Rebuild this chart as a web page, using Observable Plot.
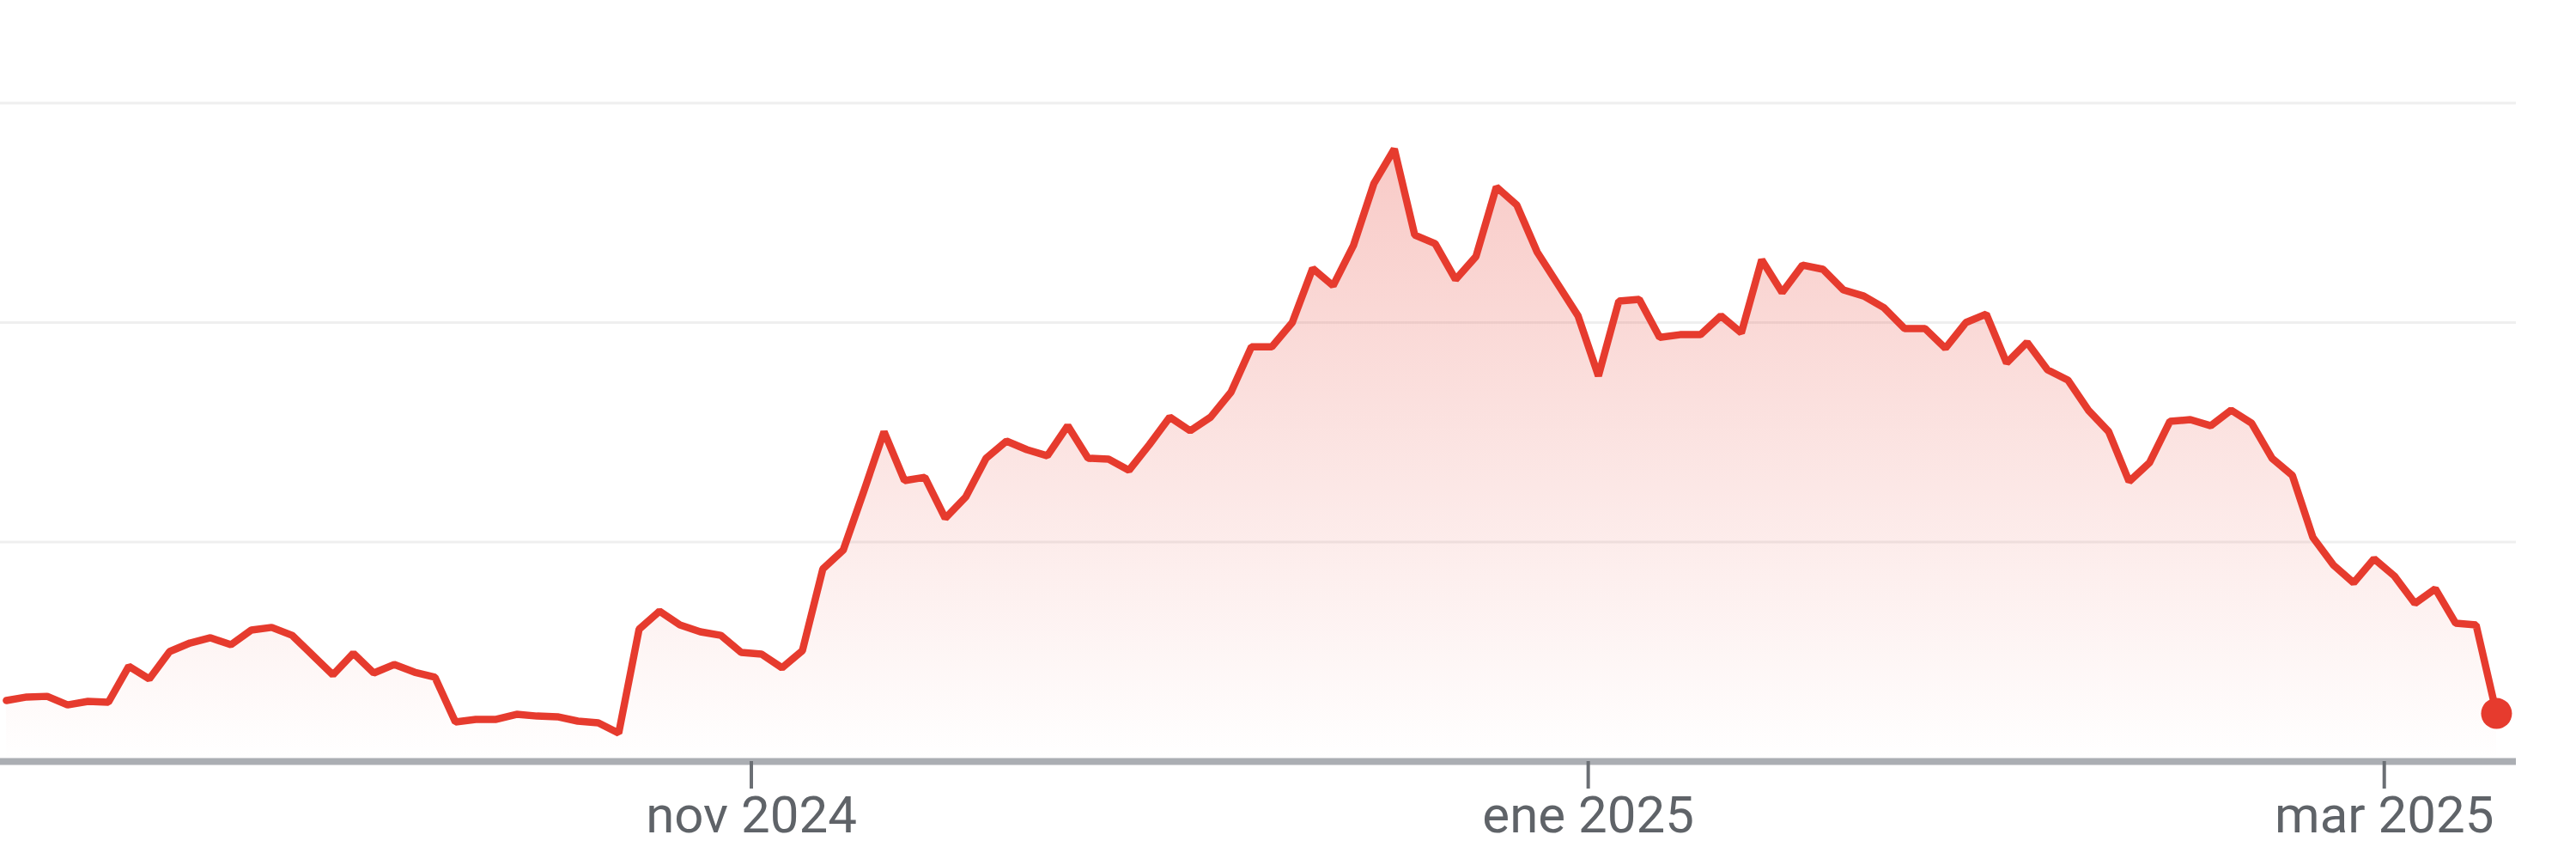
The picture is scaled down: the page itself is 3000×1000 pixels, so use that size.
<!DOCTYPE html>
<html>
<head>
<meta charset="utf-8">
<script src="https://cdn.jsdelivr.net/npm/d3@7"></script>
<script src="https://cdn.jsdelivr.net/npm/@observablehq/plot@0.6"></script>
<style>
  html, body { margin: 0; padding: 0; background: #ffffff; overflow: hidden; }
  #chart svg { display: block; max-width: none !important; }
</style>
</head>
<body>
<div id="chart"></div>
<script>
// Trading sessions shown (one point per session)
const dates = [
  "2024-09-12","2024-09-13","2024-09-16","2024-09-17","2024-09-18","2024-09-19","2024-09-20","2024-09-23","2024-09-24","2024-09-25","2024-09-26","2024-09-27","2024-09-30",
  "2024-10-01","2024-10-02","2024-10-03","2024-10-04","2024-10-07","2024-10-08","2024-10-09","2024-10-10","2024-10-11","2024-10-14","2024-10-15","2024-10-16","2024-10-17","2024-10-18","2024-10-21","2024-10-22","2024-10-23","2024-10-24","2024-10-25","2024-10-28","2024-10-29","2024-10-30","2024-10-31",
  "2024-11-01","2024-11-04","2024-11-05","2024-11-06","2024-11-07","2024-11-08","2024-11-11","2024-11-12","2024-11-13","2024-11-14","2024-11-15","2024-11-18","2024-11-19","2024-11-20","2024-11-21","2024-11-22","2024-11-25","2024-11-26","2024-11-27","2024-11-29",
  "2024-12-02","2024-12-03","2024-12-04","2024-12-05","2024-12-06","2024-12-09","2024-12-10","2024-12-11","2024-12-12","2024-12-13","2024-12-16","2024-12-17","2024-12-18","2024-12-19","2024-12-20","2024-12-23","2024-12-24","2024-12-26","2024-12-27","2024-12-30","2024-12-31",
  "2025-01-02","2025-01-03","2025-01-06","2025-01-07","2025-01-08","2025-01-10","2025-01-13","2025-01-14","2025-01-15","2025-01-16","2025-01-17","2025-01-21","2025-01-22","2025-01-23","2025-01-24","2025-01-27","2025-01-28","2025-01-29","2025-01-30","2025-01-31",
  "2025-02-03","2025-02-04","2025-02-05","2025-02-06","2025-02-07","2025-02-10","2025-02-11","2025-02-12","2025-02-13","2025-02-14","2025-02-18","2025-02-19","2025-02-20","2025-02-21","2025-02-24","2025-02-25","2025-02-26","2025-02-27","2025-02-28",
  "2025-03-03","2025-03-04","2025-03-05","2025-03-06","2025-03-07","2025-03-10","2025-03-11"
];

// Values (no y labels shown; relative units)
const values = [
  2.78, 2.94, 2.97, 2.58, 2.74, 2.70, 4.34, 3.76, 5.01, 5.40, 5.64, 5.32, 5.99,
  6.11, 5.75, 4.85, 3.95, 4.93, 4.03, 4.42, 4.07, 3.84, 1.80, 1.92, 1.92, 2.15, 2.07, 2.04, 1.84, 1.76, 1.29, 6.03, 6.85, 6.22, 5.91, 5.75,
  4.97, 4.89, 4.27, 5.05, 8.77, 9.63, 12.29, 15.03, 12.80, 12.95, 11.08, 12.05, 13.82, 14.60, 14.21, 13.93, 15.30, 13.82, 13.78, 13.27,
  14.44, 15.69, 15.07, 15.69, 16.83, 18.90, 18.90, 20.00, 22.47, 21.68, 23.52, 26.34, 27.91, 23.99, 23.60, 21.96, 23.01, 26.18, 25.36, 23.21, 21.76,
  20.31, 17.57, 20.98, 21.06, 19.33, 19.45, 19.45, 20.31, 19.53, 22.86, 21.37, 22.62, 22.43, 21.49, 21.21, 20.67, 19.73, 19.73, 18.83, 20.00,
  20.39, 18.16, 19.10, 17.85, 17.38, 16.01, 15.03, 12.76, 13.62, 15.50, 15.58, 15.30, 16.01, 15.42, 13.82, 13.03, 10.22, 8.96, 8.14,
  9.24, 8.45, 7.20, 7.87, 6.30, 6.22, 2.19
];

// Month ticks and their labels
const tickDates = ["2024-11-01", "2025-01-02", "2025-03-03"];
const tickLabels = ["nov 2024", "ene 2025", "mar 2025"];

// Horizontal grid values
const gridValues = [10, 20, 30];

const red = "#e63b2e";
const data = dates.map((d, i) => ({i, date: d, value: values[i]}));
const tickPos = tickDates.map(d => dates.indexOf(d) + 0.5);
const last = data[data.length - 1];

const gradientDefs = () => {
  const defs = d3.create("svg:defs");
  const g = defs.append("linearGradient")
    .attr("id", "fillGrad").attr("x1", 0).attr("y1", 0).attr("x2", 0).attr("y2", 1);
  g.append("stop").attr("offset", "0%").attr("stop-color", red).attr("stop-opacity", 0.27);
  g.append("stop").attr("offset", "100%").attr("stop-color", red).attr("stop-opacity", 0);
  return defs.node();
};

const chart = Plot.plot({
  width: 3000,
  height: 1000,
  marginTop: 0,
  marginBottom: 114,
  marginLeft: 0,
  marginRight: 70,
  style: {fontFamily: "Roboto, Arial, sans-serif", fontSize: "60px", background: "#ffffff", color: "#5f6368"},
  x: {type: "linear", domain: [-0.29, 122.97], axis: null},
  y: {domain: [0, 34.68], axis: null},
  marks: [
    gradientDefs,
    Plot.ruleY(gridValues, {stroke: "#efefef", strokeWidth: 3}),
    Plot.areaY(data, {x: "i", y: "value", fill: "url(#fillGrad)"}),
    Plot.ruleY([0], {stroke: "#abaeb3", strokeWidth: 8}),
    Plot.axisX(tickPos, {
      tickFormat: d => tickLabels[tickPos.indexOf(d)],
      tickSize: 32,
      tickPadding: 8,
      stroke: "#6b6f74",
      strokeWidth: 4,
      fill: "#5f6368",
      fontSize: 60,
      label: null
    }),
    Plot.lineY(data, {x: "i", y: "value", stroke: red, strokeWidth: 8.5, strokeLinejoin: "miter"}),
    Plot.dot([last], {x: "i", y: "value", r: 18, fill: red})
  ]
});

document.getElementById("chart").appendChild(chart);
</script>
</body>
</html>
